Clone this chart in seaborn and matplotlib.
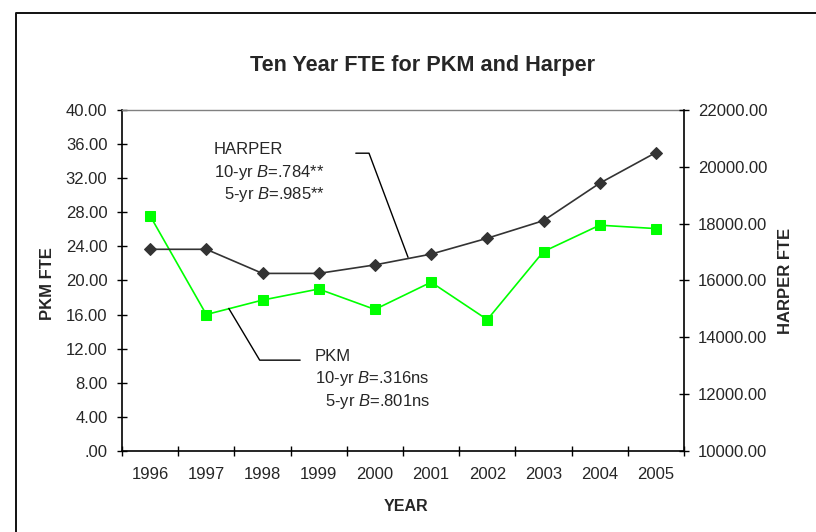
import numpy as np
import pandas as pd
import matplotlib
matplotlib.use("Agg")
import matplotlib.pyplot as plt
from matplotlib.lines import Line2D
from matplotlib.ticker import FuncFormatter
import seaborn as sns

# values
years = ["1996", "1997", "1998", "1999", "2000", "2001", "2002", "2003", "2004", "2005"]
pkm_fte = [27.6, 16.0, 17.7, 19.0, 16.6, 19.8, 15.4, 23.4, 26.5, 26.1]
harper_fte = [17100, 17100, 16250, 16250, 16550, 16930, 17490, 18110, 19430, 20510]

df = pd.DataFrame({"pos": np.arange(len(years)), "year": years,
                   "PKM": pkm_fte, "HARPER": harper_fte})

sns.set_style("white")
plt.rcParams["font.family"] = ["Liberation Sans", "DejaVu Sans"]
plt.rcParams["mathtext.fontset"] = "custom"
plt.rcParams["mathtext.rm"] = "Liberation Sans"
plt.rcParams["mathtext.it"] = "Liberation Sans:italic"

W, H = 816, 532
fig = plt.figure(figsize=(W / 100, H / 100), dpi=100)
ax = fig.add_axes([122 / W, 1 - 450.7 / H, 562 / W, 340.4 / H])
ax2 = ax.twinx()

sns.lineplot(data=df, x="pos", y="PKM", ax=ax, color="#00ff00", lw=1.2,
             marker="s", markersize=7, markeredgecolor="#00ff00")
sns.lineplot(data=df, x="pos", y="HARPER", ax=ax2, color="#333333", lw=1.2,
             marker="D", markersize=6, markeredgecolor="#333333")

ax.set_xlim(-0.5, len(years) - 0.5)
ax.set_ylim(0, 40)
ax.set_yticks(np.arange(0, 41, 4))
ax2.set_ylim(10000, 22000)
ax2.set_yticks(np.arange(10000, 22001, 2000))

def left_fmt(v, _):
    s = f"{v:.2f}"
    return s[1:] if s.startswith("0.") else s

ax.yaxis.set_major_formatter(FuncFormatter(left_fmt))
ax2.yaxis.set_major_formatter(FuncFormatter(lambda v, _: f"{v:.2f}"))

ax.set_xticks(df["pos"])
ax.set_xticklabels(years)
ax.set_xticks(np.arange(-0.5, len(years), 1), minor=True)
ax.tick_params(axis="x", which="major", length=0, pad=12, labelsize=12)
ax.tick_params(axis="x", which="minor", bottom=True, direction="inout",
               length=7, width=1, color="black")
ax.tick_params(axis="y", left=True, direction="inout", length=7, width=1,
               color="black", pad=7, labelsize=12)
ax2.tick_params(axis="y", right=True, direction="inout", length=7, width=1,
                color="black", pad=6.5, labelsize=12)

for s in ["left", "bottom"]:
    ax.spines[s].set_color("black")
    ax.spines[s].set_linewidth(1.2)
ax.spines["top"].set_color("#808080")
ax.spines["top"].set_linewidth(1.0)
ax.spines["right"].set_visible(False)
for s in ["left", "bottom", "top"]:
    ax2.spines[s].set_visible(False)
ax2.spines["right"].set_color("black")
ax2.spines["right"].set_linewidth(1.2)

ax.set_xlabel("YEAR", fontsize=11.5, fontweight="bold")
ax.set_ylabel("PKM FTE", fontsize=12, fontweight="bold")
ax2.set_ylabel("HARPER FTE", fontsize=12, fontweight="bold")
ax.xaxis.set_label_coords(0.505, -0.142)
ax.yaxis.set_label_coords(-0.12, 0.49)
ax2.yaxis.set_label_coords(1.168, 0.5)

fig.text(423 / W, 1 - 65 / H, "Ten Year FTE for PKM and Harper",
         ha="center", va="center", fontsize=15.6, fontweight="bold")

# callouts
tf = ax.transAxes
ax.text(0.163, 0.886, "HARPER", transform=tf, fontsize=12, va="center")
ax.text(0.163, 0.816, r"10-yr $\mathit{B}$=.784**", transform=tf, fontsize=12, va="center")
ax.text(0.181, 0.754, r"5-yr $\mathit{B}$=.985**", transform=tf, fontsize=12, va="center")
ax.add_line(Line2D([0.416, 0.4395, 0.509], [0.874, 0.874, 0.568], transform=tf,
                   color="black", lw=1.0))

ax.text(0.343, 0.276, "PKM", transform=tf, fontsize=12, va="center")
ax.text(0.343, 0.211, r"10-yr $\mathit{B}$=.316ns", transform=tf, fontsize=12, va="center")
ax.text(0.362, 0.144, r"5-yr $\mathit{B}$=.801ns", transform=tf, fontsize=12, va="center")
ax.add_line(Line2D([0.190, 0.245, 0.317], [0.418, 0.266, 0.266], transform=tf,
                   color="black", lw=1.0))

# chart area border (only top and left edges fall inside the picture)
fig.add_artist(Line2D([16 / W, 16 / W, 1.0], [0.0, 1 - 13 / H, 1 - 13 / H],
                      transform=fig.transFigure, color="#111111", lw=1.4))

fig.savefig("out.png", dpi=100)
